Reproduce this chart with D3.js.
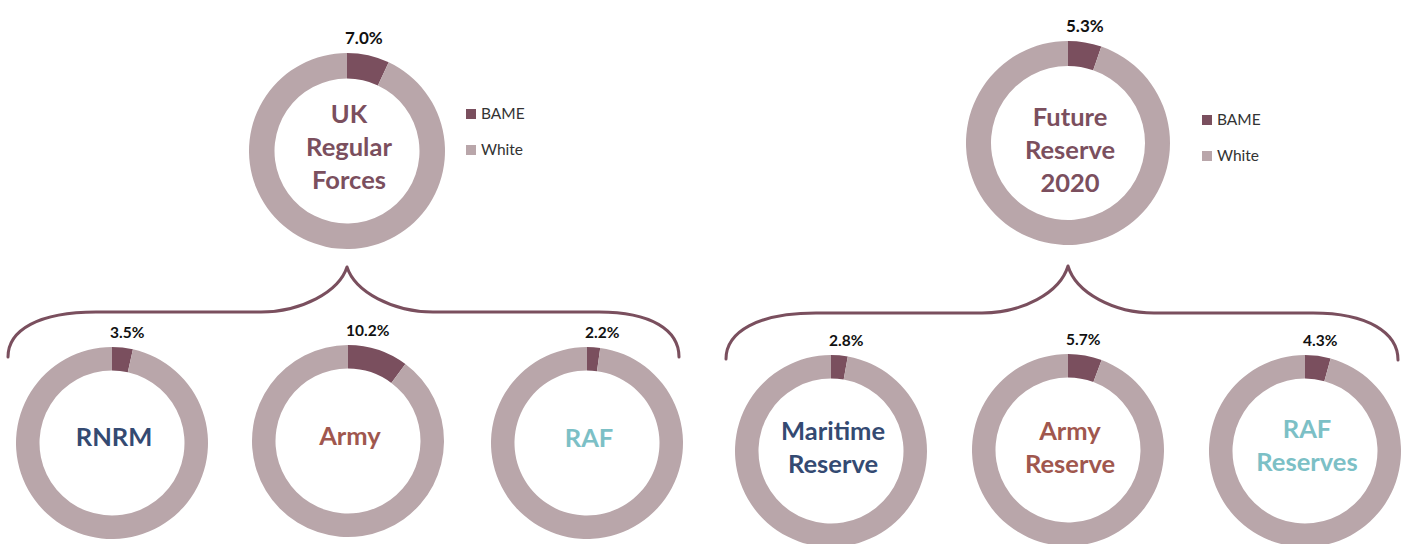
<!DOCTYPE html>
<html>
<head>
<meta charset="utf-8">
<script src="https://cdn.jsdelivr.net/npm/d3@7"></script>
<style>
  html, body { margin: 0; padding: 0; background: #ffffff; }
  svg { display: block; font-family: Lato, "Open Sans", sans-serif; }
</style>
</head>
<body>
<svg id="chart" width="1407" height="544"></svg>
<script>
// ---- data ----
const series = ["BAME", "White"];
const chartNames = ["UK Regular Forces", "Future Reserve 2020", "RNRM", "Army", "RAF",
                    "Maritime Reserve", "Army Reserve", "RAF Reserves"];
const chartLabelLines = [["UK", "Regular", "Forces"], ["Future", "Reserve", "2020"], ["RNRM"], ["Army"], ["RAF"],
                         ["Maritime", "Reserve"], ["Army", "Reserve"], ["RAF", "Reserves"]];
const bamePct = [7.0, 5.3, 3.5, 10.2, 2.2, 2.8, 5.7, 4.3];
const whitePct = bamePct.map(v => 100 - v);
// parent -> children (tree drawn with braces)
const hierarchy = [
  { parent: "UK Regular Forces", children: ["RNRM", "Army", "RAF"] },
  { parent: "Future Reserve 2020", children: ["Maritime Reserve", "Army Reserve", "RAF Reserves"] }
];

// ---- layout / style (not data) ----
const layout = {
  "UK Regular Forces":   { cx: 347, cy: 151, r: 98, ir: 72.5, labelDy: -4, pctSize: 17, nameSize: 25.5, color: "#7b4f5e" },
  "Future Reserve 2020": { cx: 1068, cy: 143, r: 102, ir: 77, labelDy: 7, pctSize: 17, nameSize: 25.5, color: "#7b4f5e" },
  "RNRM":                { cx: 112, cy: 443, r: 96, ir: 72.5, labelDy: -6, pctSize: 15.5, nameSize: 25.5, color: "#344a72" },
  "Army":                { cx: 348, cy: 441, r: 96, ir: 72.5, labelDy: -5, pctSize: 15.5, nameSize: 25.5, color: "#a0574e" },
  "RAF":                 { cx: 587, cy: 443, r: 96, ir: 72.5, labelDy: -5, pctSize: 15.5, nameSize: 25.5, color: "#7cc0c6" },
  "Maritime Reserve":    { cx: 831, cy: 451, r: 96, ir: 72.5, labelDy: -4, pctSize: 15.5, nameSize: 25.5, color: "#344a72" },
  "Army Reserve":        { cx: 1068, cy: 450, r: 96, ir: 72.5, labelDy: -3, pctSize: 15.5, nameSize: 25.5, color: "#a0574e" },
  "RAF Reserves":        { cx: 1305, cy: 451, r: 96, ir: 72.5, labelDy: -6, pctSize: 15.5, nameSize: 25.5, color: "#7cc0c6" }
};
const color = d3.scaleOrdinal().domain(series).range(["#7a4f5e", "#b9a6aa"]);
const braceColor = "#7a4f5e";

const svg = d3.select("#chart");
const pie = d3.pie().sort(null).value(d => d.value).startAngle(0).endAngle(2 * Math.PI);
const fmt = d3.format(".1f");

chartNames.forEach((name, i) => {
  const L = layout[name];
  const g = svg.append("g").attr("transform", `translate(${L.cx},${L.cy})`);
  const arc = d3.arc().innerRadius(L.ir).outerRadius(L.r);
  const vals = [{ key: series[0], value: bamePct[i] }, { key: series[1], value: whitePct[i] }];
  g.selectAll("path.slice").data(pie(vals)).join("path")
    .attr("class", "slice")
    .attr("d", arc)
    .attr("fill", d => color(d.data.key));

  // percentage label above BAME slice
  g.append("text")
    .attr("x", -2)
    .attr("y", -L.r - 9)
    .attr("text-anchor", "start")
    .attr("font-size", L.pctSize)
    .attr("font-weight", 700)
    .attr("fill", "#111")
    .text(fmt(bamePct[i]) + "%");

  // centre name
  const lines = chartLabelLines[i];
  const lh = 33;
  const capH = L.nameSize * 0.72;
  const firstBase = L.labelDy - (lines.length - 1) * lh / 2 + capH / 2;
  const t = g.append("text")
    .attr("text-anchor", "middle")
    .attr("font-size", L.nameSize)
    .attr("font-weight", 700)
    .attr("fill", L.color);
  lines.forEach((ln, j) => {
    t.append("tspan").attr("x", 2).attr("y", firstBase + j * lh).text(ln);
  });
});

// legends for the two parent charts
const legendPos = [
  { chart: "UK Regular Forces", x: 466, y: 109 },
  { chart: "Future Reserve 2020", x: 1202, y: 115 }
];
legendPos.forEach(lp => {
  const lg = svg.append("g").attr("transform", `translate(${lp.x},${lp.y})`);
  series.forEach((s, j) => {
    lg.append("rect").attr("x", 0).attr("y", j * 36).attr("width", 10).attr("height", 10).attr("fill", color(s));
    lg.append("text").attr("x", 15).attr("y", j * 36 + 10).attr("font-size", 15.5)
      .attr("fill", "#333").text(s);
  });
});

// braces linking parent to children
function bracePath(x0, x1, xm, yPeak, yLine, yEnd0, yEnd1, endW0, endW1) {
  const p = d3.path();
  p.moveTo(x0, yEnd0);
  p.bezierCurveTo(x0, yEnd0 - 27, x0 + endW0 * 0.35, yLine, x0 + endW0, yLine);
  p.lineTo(xm - 86, yLine);
  p.bezierCurveTo(xm - 46, yLine, xm - 8, yLine - 20, xm, yPeak);
  p.bezierCurveTo(xm + 8, yLine - 20, xm + 46, yLine, xm + 86, yLine);
  p.lineTo(x1 - endW1, yLine);
  p.bezierCurveTo(x1 - endW1 * 0.35, yLine, x1, yEnd1 - 27, x1, yEnd1);
  return p.toString();
}
const braceGeom = [
  { x0: 8, x1: 679, yPeak: 267, yLine: 312, yEnd0: 357, yEnd1: 357, w0: 88, w1: 80 },
  { x0: 726, x1: 1398, yPeak: 266, yLine: 313, yEnd0: 359, yEnd1: 360, w0: 90, w1: 85 }
];
hierarchy.forEach((h, k) => {
  const B = braceGeom[k];
  const xm = layout[h.parent].cx;
  svg.append("path")
    .attr("d", bracePath(B.x0, B.x1, xm, B.yPeak, B.yLine, B.yEnd0, B.yEnd1, B.w0, B.w1))
    .attr("fill", "none")
    .attr("stroke", braceColor)
    .attr("stroke-width", 3)
    .attr("stroke-linecap", "round")
    .attr("stroke-linejoin", "round");
});
</script>
</body>
</html>
